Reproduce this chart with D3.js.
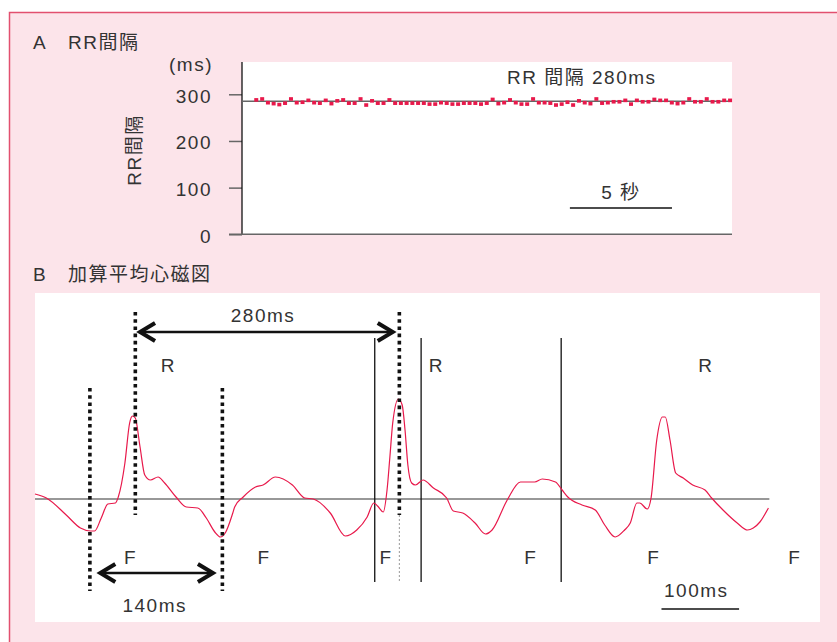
<!DOCTYPE html>
<html>
<head>
<meta charset="utf-8">
<script src="https://cdn.jsdelivr.net/npm/d3@7"></script>
<style>
  body { margin: 0; background: #fff; }
  svg text { font-family: "Liberation Sans", "Noto Sans CJK JP", sans-serif; fill: #333; font-size: 19px; letter-spacing: 1.5px; }
</style>
</head>
<body>
<svg id="chart" width="837" height="642"></svg>
<script>
// A: beat-to-beat RR intervals (ms)
const rrValues = [
  288, 290, 282, 280, 278, 281, 290, 282, 283, 287, 282, 281, 287, 280, 286, 288, 281, 281, 290, 277, 286,
  281, 281, 288, 281, 281, 281, 281, 281, 281, 279, 279, 282, 281, 279, 279, 281, 281, 281, 279, 281, 289,
  280, 282, 288, 282, 279, 279, 290, 282, 282, 281, 277, 279, 283, 277, 286, 282, 280, 290, 281, 282, 284,
  284, 287, 279, 287, 284, 284, 289, 287, 287, 282, 280, 282, 290, 284, 284, 290, 284, 284, 287, 287
];
const rrTicks = [0, 100, 200, 300];
const rrMean = 285;
const secBar = [15.65, 20.65];   // "5 秒"

// B: averaged magnetocardiogram (time ms, amplitude a.u.)
const waveTime = [0, 12, 33, 48, 59, 63, 70, 77, 85, 88, 95, 100, 103, 106, 111, 116, 122, 130, 137, 149,
  160, 172, 181, 190, 196, 201, 209, 211, 220, 233, 241, 254, 272, 285, 294, 312, 328, 340, 351, 358,
  362, 368, 372, 375, 378, 384, 388, 391, 394, 398, 402, 410, 421, 435, 442, 452, 465, 476, 483, 499,
  513, 528, 536, 550, 557, 563, 578, 592, 602, 613, 623, 629, 636, 639, 647, 651, 657, 663, 666, 671,
  677, 685, 695, 708, 715, 727, 742, 753, 759, 766, 775];
const waveAmp = [5, 1, -16, -29, -32, -32, -19, -5, -4, 2, 36, 76, 83, 81, 52, 24, 19, 22, 16, 2,
  -8, -9, -19, -33, -38, -34, -14, -8, 2, 12, 14, 22, 14, 1, 0, -14, -37, -31, -18, -4,
  -7, -13, 9, 42, 76, 100, 94, 69, 34, 16, 14, 19, 11, 1, -12, -14, -24, -35, -31, -1,
  17, 17, 20, 17, 9, 2, -6, -11, -26, -38, -31, -24, -4, -4, -10, 1, 59, 82, 82, 59,
  26, 21, 14, 9, 1, -11, -24, -31, -29, -23, -9];
const rDotted = [106, 385];
const fDotted = [58, 198];
const solidTimes = [359, 408, 556];
const rLabelTimes = [141, 424, 709];
const fLabelTimes = [101, 242, 371, 524, 654, 803];
const rrArrow = [111, 378];
const fArrow = [69, 188];
const msBar = [662, 744];

const red = "#e8194b";
const svg = d3.select("#chart");

svg.append("rect").attr("x", 9.5).attr("y", 12.5).attr("width", 840).attr("height", 640)
  .attr("fill", "#fce4ea").attr("stroke", "#e2506f").attr("stroke-width", 1.5);

// ---------- A ----------
svg.append("text").attr("x", 33).attr("y", 49).text("A");
svg.append("text").attr("x", 68).attr("y", 49).attr("letter-spacing", 0.3).text("RR間隔");

svg.append("rect").attr("x", 242).attr("y", 62).attr("width", 490).attr("height", 172).attr("fill", "#fff");

const xA = d3.scaleLinear().domain([-0.41, 23.59]).range([242, 732]);
const yA = d3.scaleLinear().domain([0, 300]).range([234.3, 94.3]);

const gy = svg.append("g").attr("transform", "translate(242,0)")
  .call(d3.axisLeft(yA).tickValues(rrTicks).tickSize(13).tickPadding(17));
gy.select(".domain").remove();
gy.selectAll(".tick line").attr("stroke", "#666").attr("stroke-width", 1.5);
gy.selectAll(".tick text").attr("font-size", 19).attr("fill", "#333")
  .attr("font-family", "Liberation Sans, sans-serif").attr("dy", "0.42em");

svg.append("line").attr("x1", 242).attr("x2", 242).attr("y1", 62).attr("y2", yA(0))
  .attr("stroke", "#111").attr("stroke-width", 1.3);
svg.append("line").attr("x1", 229).attr("x2", 732).attr("y1", yA(0)).attr("y2", yA(0))
  .attr("stroke", "#666").attr("stroke-width", 1.5);
svg.append("line").attr("x1", 242).attr("x2", 732).attr("y1", yA(rrMean)).attr("y2", yA(rrMean))
  .attr("stroke", "#666").attr("stroke-width", 1.5);

svg.append("text").attr("x", 213).attr("y", 71).attr("text-anchor", "end").text("(ms)");
svg.append("text").attr("transform", "translate(141,150) rotate(-90)").attr("text-anchor", "middle")
  .attr("letter-spacing", 0.3).text("RR間隔");

const beatTimes = d3.cumsum(rrValues).map(v => v / 1000);
svg.append("g").selectAll("rect").data(rrValues).join("rect")
  .attr("x", (d, i) => xA(beatTimes[i]) - 2)
  .attr("y", d => yA(d) - 1.8)
  .attr("width", 4).attr("height", 3.6)
  .attr("fill", red);

svg.append("text").attr("x", 507).attr("y", 84).text("RR 間隔 280ms");
svg.append("line").attr("x1", xA(secBar[0])).attr("x2", xA(secBar[1])).attr("y1", 208).attr("y2", 208)
  .attr("stroke", "#111").attr("stroke-width", 1.3);
svg.append("text").attr("x", (xA(secBar[0]) + xA(secBar[1])) / 2).attr("y", 199)
  .attr("text-anchor", "middle").text("5 秒");

// ---------- B ----------
svg.append("text").attr("x", 33).attr("y", 281).text("B");
svg.append("text").attr("x", 68).attr("y", 281).attr("font-size", 20).attr("letter-spacing", 3).text("加算平均心磁図");

svg.append("rect").attr("x", 35).attr("y", 293).attr("width", 785).attr("height", 329).attr("fill", "#fff");

const xB = d3.scaleLinear().domain([0, 829.5]).range([35, 820]);
const yB = d3.scaleLinear().domain([-127, 206]).range([626, 293]);

svg.append("line").attr("x1", xB(0)).attr("x2", xB(776)).attr("y1", yB(0)).attr("y2", yB(0))
  .attr("stroke", "#333").attr("stroke-width", 1.2);

const vline = (t, a0, a1) => svg.append("line")
  .attr("x1", xB(t)).attr("x2", xB(t)).attr("y1", yB(a0)).attr("y2", yB(a1));

solidTimes.forEach(t => vline(t, 161, -83).attr("stroke", "#111").attr("stroke-width", 1.3));

const wave = d3.line().x((d, i) => xB(waveTime[i])).y(d => yB(d)).curve(d3.curveMonotoneX);
svg.append("path").datum(waveAmp).attr("d", wave)
  .attr("fill", "none").attr("stroke", red).attr("stroke-width", 1.2);

fDotted.forEach(t => vline(t, 111, -92).attr("stroke", "#111").attr("stroke-width", 3.6).attr("stroke-dasharray", "3.6 3.6"));
rDotted.forEach(t => vline(t, 187, -16).attr("stroke", "#111").attr("stroke-width", 3.6).attr("stroke-dasharray", "3.6 3.6"));
vline(rDotted[1], -16, -83).attr("stroke", "#999").attr("stroke-width", 1).attr("stroke-dasharray", "2 2");

function arrow(t0, t1, a) {
  const x0 = xB(t0), x1 = xB(t1), y = yB(a);
  svg.append("line").attr("x1", x0).attr("x2", x1).attr("y1", y).attr("y2", y)
    .attr("stroke", "#111").attr("stroke-width", 2.4);
  [[x0, 1], [x1, -1]].forEach(([x, s]) => {
    svg.append("path").attr("d", `M${x + s * 15},${y - 9}L${x},${y}L${x + s * 15},${y + 9}`)
      .attr("fill", "none").attr("stroke", "#111").attr("stroke-width", 4);
  });
}
arrow(rrArrow[0], rrArrow[1], 167);
arrow(fArrow[0], fArrow[1], -74);

svg.append("text").attr("x", xB(241)).attr("y", yB(177)).attr("text-anchor", "middle").text("280ms");
svg.append("text").attr("x", xB(126.5)).attr("y", yB(-113)).attr("text-anchor", "middle").text("140ms");

svg.append("g").selectAll("text").data(rLabelTimes).join("text")
  .attr("x", d => xB(d)).attr("y", yB(127)).attr("text-anchor", "middle").text("R");
svg.append("g").selectAll("text").data(fLabelTimes).join("text")
  .attr("x", d => xB(d)).attr("y", yB(-65)).attr("text-anchor", "middle").text("F");

svg.append("line").attr("x1", xB(msBar[0])).attr("x2", xB(msBar[1])).attr("y1", yB(-110)).attr("y2", yB(-110))
  .attr("stroke", "#111").attr("stroke-width", 1.3);
svg.append("text").attr("x", (xB(msBar[0]) + xB(msBar[1])) / 2 - 4).attr("y", yB(-98))
  .attr("text-anchor", "middle").text("100ms");
</script>
</body>
</html>
